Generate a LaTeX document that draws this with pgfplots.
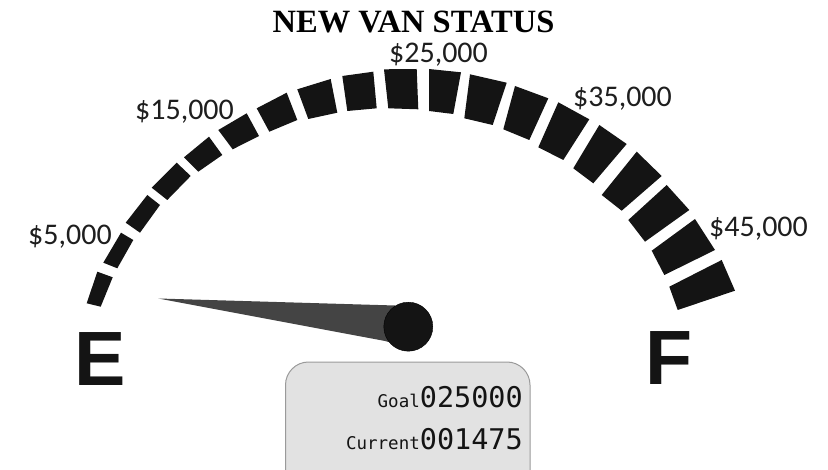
\documentclass[border=0pt]{standalone}
\usepackage{pgfplots}
\pgfplotsset{compat=1.18}
\usepackage{fontspec}
\setmainfont{Carlito}
\newfontfamily\titlefont{Liberation Serif}
\newfontfamily\bigsans{Liberation Sans}
\newfontfamily\lcd{DejaVu Sans Mono}
\definecolor{seg}{HTML}{141414}
\definecolor{needle}{HTML}{444444}
\definecolor{lab}{HTML}{1E1E1E}
\definecolor{boxfill}{HTML}{E2E2E2}
\definecolor{boxdraw}{HTML}{9A9A9A}
\begin{document}
\begin{tikzpicture}
\useasboundingbox (0,0) rectangle (828pt,470pt);
\begin{axis}[
  at={(0,0)}, anchor=south west,
  scale only axis, width=828pt, height=470pt,
  xmin=0, xmax=828, ymin=0, ymax=470, y dir=reverse,
  hide axis, clip=false,
]
% gauge segments (pixel coordinates)
\addplot[fill=seg, draw=none] coordinates {(86.7,303.3) (97.3,271.7) (112.7,277.3) (100.7,306.7)} -- cycle;
\addplot[fill=seg, draw=none] coordinates {(103.3,262.7) (121,232.7) (133.3,240) (117.3,268.3)} -- cycle;
\addplot[fill=seg, draw=none] coordinates {(125.7,222.7) (147.3,195) (160,205) (140,232.7)} -- cycle;
\addplot[fill=seg, draw=none] coordinates {(151.7,187.7) (176.7,162.7) (190.7,176) (167.3,200)} -- cycle;
\addplot[fill=seg, draw=none] coordinates {(184,157.3) (209,136.7) (222.3,155) (198.3,171.7)} -- cycle;
\addplot[fill=seg, draw=none] coordinates {(218.3,130) (246.7,113.3) (259,136) (232.7,149.3)} -- cycle;
\addplot[fill=seg, draw=none] coordinates {(256.7,108.3) (286.7,92.7) (297.3,120) (269.3,131.7)} -- cycle;
\addplot[fill=seg, draw=none] coordinates {(297.3,89.3) (330.7,79) (337.3,112.7) (308.3,119)} -- cycle;
\addplot[fill=seg, draw=none] coordinates {(342.3,76) (373.3,71.7) (376.7,108.3) (347.3,111)} -- cycle;
\addplot[fill=seg, draw=none] coordinates {(384,69.3) (416.7,69) (418.3,109.3) (388.3,108.3)} -- cycle;
\addplot[fill=seg, draw=none] coordinates {(429,69) (461,72.3) (453.3,114) (429,111)} -- cycle;
\addplot[fill=seg, draw=none] coordinates {(470,74.3) (506.7,82.7) (492.7,125) (464.3,118.3)} -- cycle;
\addplot[fill=seg, draw=none] coordinates {(515,86) (548.3,98.3) (529.3,140) (503.3,129.3)} -- cycle;
\addplot[fill=seg, draw=none] coordinates {(558.3,102.3) (589.3,119.3) (563.3,160) (538.3,147.3)} -- cycle;
\addplot[fill=seg, draw=none] coordinates {(599.3,125) (626.7,144) (593.3,183.3) (573.3,168.3)} -- cycle;
\addplot[fill=seg, draw=none] coordinates {(636.7,151.7) (661.7,176) (621.7,210.7) (601.7,195)} -- cycle;
\addplot[fill=seg, draw=none] coordinates {(666.7,185) (689.3,210) (645,241.7) (628.3,220)} -- cycle;
\addplot[fill=seg, draw=none] coordinates {(695,219) (715,250) (664.3,275) (651.7,250.7)} -- cycle;
\addplot[fill=seg, draw=none] coordinates {(721.7,260) (735,290.7) (677.7,310) (669.3,286.7)} -- cycle;
% needle
\addplot[fill=needle, draw=none] coordinates {(158.3,298.5) (395,305.5) (392,343) (385,341)} -- cycle;
% hub
\addplot[only marks, mark=*, mark size=24.5pt, mark options={fill=seg, draw=none}] coordinates {(408.3,326.7)};
% labels
\node[anchor=base, text=lab, font=\fontsize{30}{32}\selectfont] at (axis cs:70,245) {\$5,000};
\node[anchor=base, text=lab, font=\fontsize{30}{32}\selectfont] at (axis cs:184.5,120) {\$15,000};
\node[anchor=base, text=lab, font=\fontsize{30}{32}\selectfont] at (axis cs:438.5,63) {\$25,000};
\node[anchor=base, text=lab, font=\fontsize{30}{32}\selectfont] at (axis cs:622.5,107) {\$35,000};
\node[anchor=base, text=lab, font=\fontsize{30}{32}\selectfont] at (axis cs:758.5,237) {\$45,000};
% title
\node[anchor=base, text=black, font=\titlefont\bfseries\fontsize{32.5}{34}\selectfont] at (axis cs:413.5,33) {NEW VAN STATUS};
% E / F
\node[anchor=base, text=seg, font=\bigsans\bfseries\fontsize{77}{80}\selectfont] at (axis cs:100,385.5) {E};
\node[anchor=base, text=seg, font=\bigsans\bfseries\fontsize{77}{80}\selectfont] at (axis cs:669,384) {F};
% display box
\draw[rounded corners=23pt, fill=boxfill, draw=boxdraw, line width=1pt] (axis cs:285.5,362) rectangle (axis cs:530,520);
\node[anchor=base east, inner sep=0pt, text=seg] at (axis cs:523,407) {{\lcd\fontsize{17.5}{18}\selectfont Goal}{\lcd\fontsize{28.5}{30}\selectfont 025000}};
\node[anchor=base east, inner sep=0pt, text=seg] at (axis cs:523,449) {{\lcd\fontsize{17.5}{18}\selectfont Current}{\lcd\fontsize{28.5}{30}\selectfont 001475}};
\end{axis}
\end{tikzpicture}
\end{document}
